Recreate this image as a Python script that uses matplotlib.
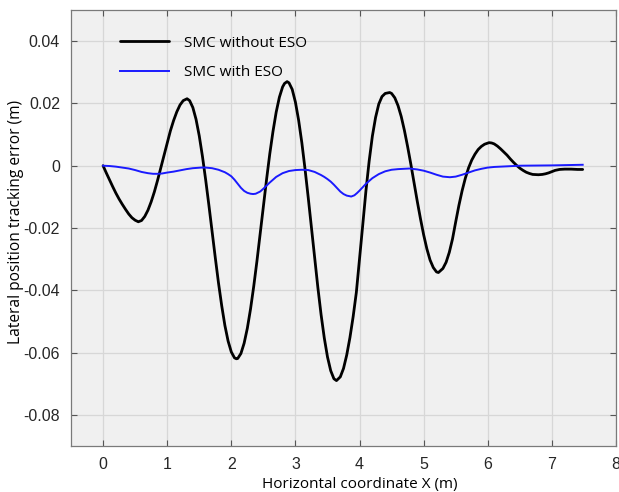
import matplotlib

matplotlib.use("Agg")

import matplotlib.pyplot as plt
import numpy as np

# Lateral tracking error along the path (x in m, error in m)
x_no_eso = [0.0, 0.05, 0.1, 0.15, 0.2, 0.25, 0.3, 0.35, 0.4, 0.45, 0.5, 0.55,
            0.6, 0.65, 0.7, 0.75, 0.8, 0.85, 0.9, 0.95, 1.0, 1.05, 1.1, 1.15,
            1.2, 1.25, 1.31, 1.35, 1.4, 1.45, 1.5, 1.55, 1.6, 1.65, 1.7, 1.75,
            1.8, 1.85, 1.9, 1.95, 2.0, 2.05, 2.08, 2.1, 2.15, 2.2, 2.25, 2.3,
            2.35, 2.4, 2.45, 2.5, 2.55, 2.6, 2.65, 2.7, 2.75, 2.8, 2.83, 2.87,
            2.9, 2.95, 3.0, 3.05, 3.1, 3.15, 3.2, 3.25, 3.3, 3.35, 3.4, 3.45,
            3.5, 3.55, 3.6, 3.64, 3.7, 3.75, 3.8, 3.85, 3.9, 3.95, 4.0, 4.05,
            4.1, 4.15, 4.2, 4.25, 4.3, 4.35, 4.4, 4.47, 4.5, 4.55, 4.6, 4.65,
            4.7, 4.75, 4.8, 4.85, 4.9, 4.95, 5.0, 5.05, 5.1, 5.15, 5.2, 5.23,
            5.3, 5.35, 5.4, 5.45, 5.5, 5.55, 5.6, 5.65, 5.7, 5.75, 5.8, 5.85,
            5.9, 5.95, 6.02, 6.06, 6.1, 6.15, 6.2, 6.25, 6.3, 6.35, 6.4, 6.45,
            6.5, 6.55, 6.6, 6.65, 6.7, 6.79, 6.85, 6.9, 6.95, 7.0, 7.05, 7.12,
            7.2, 7.3, 7.4, 7.48]
e_no_eso = [0.0, -0.0023, -0.0045, -0.0067, -0.0088, -0.0107, -0.0124, -0.0140,
            -0.0155, -0.0167, -0.0175, -0.0180, -0.0176, -0.0163, -0.0143,
            -0.0116, -0.0084, -0.0047, -0.0007, 0.0034, 0.0074, 0.0112, 0.0145,
            0.0173, 0.0195, 0.0209, 0.0215, 0.0209, 0.0187, 0.0149, 0.0096,
            0.0030, -0.0045, -0.0126, -0.0211, -0.0295, -0.0376, -0.0449,
            -0.0513, -0.0563, -0.0598, -0.0617, -0.0620, -0.0619, -0.0603,
            -0.0570, -0.0522, -0.0460, -0.0387, -0.0306, -0.0219, -0.0131,
            -0.0044, 0.0038, 0.0110, 0.0172, 0.0220, 0.0253, 0.0264, 0.0270,
            0.0266, 0.0245, 0.0204, 0.0146, 0.0074, -0.0011, -0.0103, -0.0200,
            -0.0298, -0.0391, -0.0478, -0.0553, -0.0614, -0.0658, -0.0684,
            -0.0690, -0.0678, -0.0651, -0.0608, -0.0552, -0.0485, -0.0407,
            -0.0300, -0.0190, -0.0080, 0.0015, 0.0095, 0.0155, 0.0198, 0.0222,
            0.0232, 0.0235, 0.0232, 0.0218, 0.0193, 0.0158, 0.0113, 0.0061,
            0.0005, -0.0055, -0.0114, -0.0170, -0.0222, -0.0267, -0.0303,
            -0.0327, -0.0341, -0.0343, -0.0330, -0.0310, -0.0278, -0.0235,
            -0.0180, -0.0127, -0.0080, -0.0040, -0.0007, 0.0018, 0.0037, 0.0052,
            0.0062, 0.0069, 0.0074, 0.0073, 0.0070, 0.0063, 0.0054, 0.0044,
            0.0034, 0.0022, 0.0011, 0.0001, -0.0008, -0.0015, -0.0021, -0.0025,
            -0.0028, -0.0029, -0.0028, -0.0026, -0.0023, -0.0019, -0.0015,
            -0.0012, -0.0011, -0.0011, -0.0012, -0.0012]

x_eso = [0.0, 0.1, 0.2, 0.3, 0.4, 0.5, 0.6, 0.7, 0.78, 0.85, 0.92, 1.0, 1.1,
         1.2, 1.3, 1.4, 1.53, 1.6, 1.7, 1.8, 1.9, 1.95, 2.0, 2.05, 2.1, 2.15,
         2.2, 2.25, 2.3, 2.34, 2.38, 2.45, 2.5, 2.55, 2.6, 2.65, 2.7, 2.8, 2.9,
         3.0, 3.1, 3.2, 3.3, 3.4, 3.45, 3.5, 3.55, 3.6, 3.65, 3.7, 3.75, 3.8,
         3.87, 3.92, 3.96, 4.0, 4.05, 4.1, 4.15, 4.2, 4.3, 4.4, 4.5, 4.6, 4.78,
         4.9, 5.0, 5.1, 5.2, 5.3, 5.41, 5.5, 5.6, 5.7, 5.8, 5.9, 6.0, 6.1, 6.2,
         6.3, 6.4, 6.5, 7.0, 7.48]
e_eso = [0.0, -0.0001, -0.0003, -0.0006, -0.0009, -0.0014, -0.0020, -0.0024,
         -0.0026, -0.0026, -0.0025, -0.0022, -0.0019, -0.0015, -0.0011,
         -0.0008, -0.0006, -0.0006, -0.0008, -0.0013, -0.0021, -0.0027,
         -0.0034, -0.0045, -0.0058, -0.0071, -0.0081, -0.0087, -0.0090,
         -0.0091, -0.0090, -0.0083, -0.0074, -0.0064, -0.0054, -0.0045,
         -0.0036, -0.0024, -0.0017, -0.0014, -0.0013, -0.0014, -0.0020,
         -0.0030, -0.0036, -0.0043, -0.0051, -0.0061, -0.0072, -0.0083,
         -0.0091, -0.0096, -0.0099, -0.0095, -0.0088, -0.0080, -0.0069,
         -0.0058, -0.0049, -0.0040, -0.0027, -0.0018, -0.0013, -0.0011,
         -0.0009, -0.0012, -0.0016, -0.0022, -0.0029, -0.0035, -0.0037,
         -0.0035, -0.0029, -0.0022, -0.0015, -0.0010, -0.0006, -0.0004,
         -0.0003, -0.0002, -0.0001, 0.0, 0.0001, 0.0003]

series_labels = ["SMC without ESO", "SMC with ESO"]
x_ticks = [0, 1, 2, 3, 4, 5, 6, 7, 8]
y_ticks = [-0.08, -0.06, -0.04, -0.02, 0, 0.02, 0.04]
y_ticklabels = ["-0.08", "-0.06", "-0.04", "-0.02", "0", "0.02", "0.04"]

tick_font = ["Liberation Sans", "DejaVu Sans"]
label_font = ["Open Sans", "DejaVu Sans"]

fig = plt.figure(figsize=(6.19, 4.92), dpi=100)
ax = fig.add_axes([0.1147, 0.0935, 0.8805, 0.8862])
ax.set_facecolor("#f0f0f0")

ax.plot(x_no_eso, e_no_eso, color="black", lw=2.0, label=series_labels[0],
        solid_joinstyle="round", solid_capstyle="round")
ax.plot(x_eso, e_eso, color="#1a1aff", lw=1.4, label=series_labels[1],
        solid_joinstyle="round")

ax.set_xlim(-0.5, 8)
ax.set_ylim(-0.09, 0.05)
ax.set_xticks(x_ticks)
ax.set_yticks(y_ticks)
ax.set_yticklabels(y_ticklabels)
for lab in ax.get_xticklabels() + ax.get_yticklabels():
    lab.set_family(tick_font)
    lab.set_fontsize(11.5)
    lab.set_color("#262626")

ax.grid(True, color="#d7d7d7", lw=0.9)
ax.set_axisbelow(True)
ax.tick_params(direction="in", length=4, width=0.8, color="#555555",
               top=True, right=True, pad=8)
for sp in ax.spines.values():
    sp.set_color("#7a7a7a")
    sp.set_linewidth(0.9)

ax.set_xlabel("Horizontal coordinate X (m)", family=label_font, fontsize=11,
              color="black")
ax.xaxis.set_label_coords(0.530, -0.072)
ax.set_ylabel("Lateral position tracking error (m)", family=label_font,
              fontsize=11.2, color="black")
ax.yaxis.set_label_coords(-0.086, 0.514)

ax.legend(loc="upper left", bbox_to_anchor=(0.065, 0.973), frameon=False,
          handlelength=3.2, handletextpad=1.0, labelspacing=0.95,
          prop={"family": label_font, "size": 11})

fig.savefig("out.png", dpi=100)
